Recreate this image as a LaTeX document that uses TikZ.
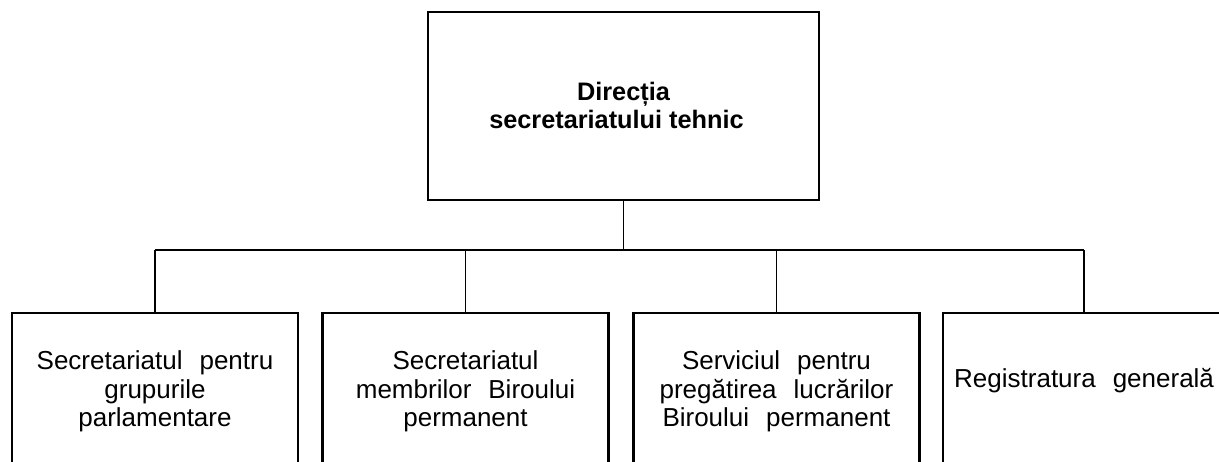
\documentclass[tikz,border=0pt]{standalone}
\usepackage{fontspec}
\setmainfont{Liberation Sans}
\newcommand\lblfont{\fontsize{26}{28.5}\selectfont\spaceskip 17pt plus 0pt minus 0pt\relax}
\begin{document}
\begin{tikzpicture}[x=1pt,y=-1pt,
  box/.style={draw, line width=2.1pt, minimum width=286pt, minimum height=152pt, inner sep=0pt, anchor=north},
  topbox/.style={draw, line width=2.1pt, minimum width=391pt, minimum height=188pt, inner sep=0pt},
  wire/.style={line width=1.7pt},
  lbl/.style={align=center, inner sep=0pt, font=\lblfont},
  ttl/.style={align=center, inner sep=0pt, font=\bfseries\fontsize{25.3}{28}\selectfont}]
\useasboundingbox (0,0) rectangle (1219,462);
\clip (0,0) rectangle (1219,462);
\node[topbox] (top) at (623.5,106) {};
\node[box] (b1) at (155,312) {};
\node[box] (b2) at (465.5,312) {};
\node[box] (b3) at (776.5,312) {};
\node[box, minimum width=282pt] (b4) at (1084,312) {};
\coordinate (bus) at (623.5,250);
\draw[wire] (top.south) -- (bus);
\draw[wire] (b1.north |- bus) -- (b4.north |- bus);
\draw[wire] (b1.north |- bus) -- (b1.north);
\draw[wire] (b2.north |- bus) -- (b2.north);
\draw[wire] (b3.north |- bus) -- (b3.north);
\draw[wire] (b4.north |- bus) -- (b4.north);
\node[ttl, anchor=north] (tt) at (623.5,82) {Direcția\\secretariatului tehnic\hspace*{14pt}};
\node[lbl, anchor=north] (t1) at (155,350.5) {Secretariatul pentru\\grupurile\\parlamentare};
\node[lbl, anchor=north] (t2) at (465.5,350.5) {Secretariatul\\membrilor Biroului\\permanent};
\node[lbl, anchor=north] (t3) at (776.5,350.5) {Serviciul pentru\\pregătirea lucrărilor\\Biroului permanent};
\node[lbl, anchor=base west] (t4) at (954,388) {Registratura generală};
\end{tikzpicture}
\end{document}
